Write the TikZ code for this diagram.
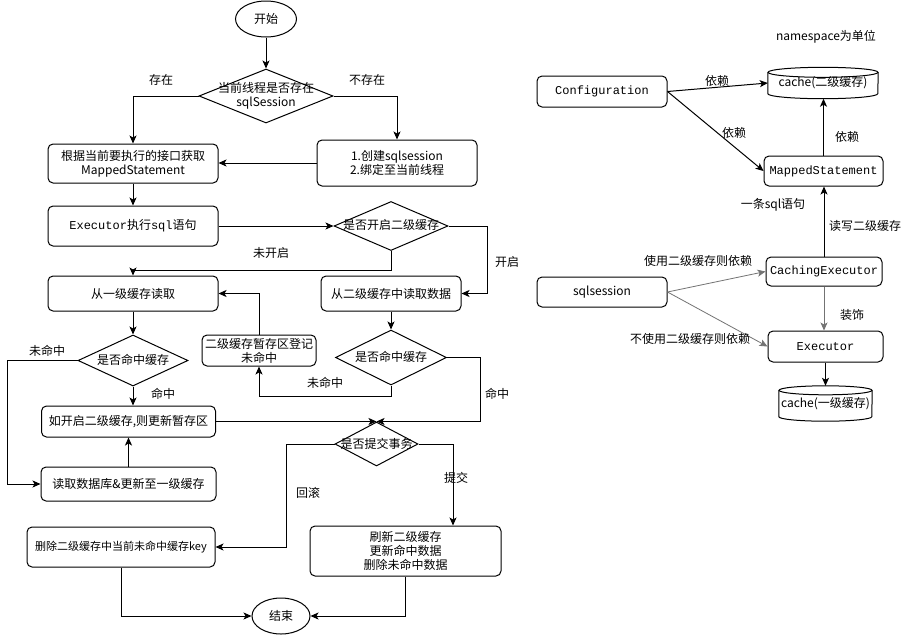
\documentclass[tikz,border=0pt]{standalone}
\usepackage{fontspec}
\setmainfont{Noto Sans CJK SC}
\newfontfamily\codefont{Liberation Mono}
\usetikzlibrary{shapes.geometric,arrows.meta}
\newcommand\dtext[1]{\smash{\makebox[0pt]{\raisebox{-4pt}{\begin{tabular}{@{}c@{}}#1\end{tabular}}}}}

\begin{document}
\begin{tikzpicture}[x=1pt,y=-1pt,
  every node/.style={font=\fontsize{12}{14}\selectfont},
  box/.style={draw,rounded corners=5pt,align=center,inner sep=2pt,line width=1pt},
  dec/.style={draw,diamond,inner sep=0pt,line width=1pt},
  term/.style={draw,ellipse,inner sep=0pt,line width=1pt},
  arr/.style={-{Stealth[length=8pt,width=7pt,inset=2pt]},line width=1pt},
  dep/.style={arr,draw=black!55,line width=0.8pt}]
  \path[fill=white] (0,0) rectangle (918,635);
  \useasboundingbox (0,0) rectangle (918,635);

  \node[term,minimum width=61pt,minimum height=36pt] (start) at (266,19) {开始};
  \node[dec,minimum width=134pt,minimum height=54pt] (hasSession) at (266,96) {\dtext{当前线程是否存在\\sqlSession}};
  \node[box,minimum width=170pt,minimum height=39pt] (getMs) at (133,163.5) {根据当前要执行的接口获取\\MappedStatement};
  \node[box,minimum width=160pt,minimum height=46pt] (newSession) at (397,163) {1.创建sqlsession\\2.绑定至当前线程};
  \node[box,minimum width=170pt,minimum height=40pt] (execSql) at (133,226) {{\codefont Executor}执行{\codefont sql}语句};
  \node[dec,minimum width=114pt,minimum height=49pt] (l2On) at (391,226) {\dtext{是否开启二级缓存}};
  \node[box,minimum width=170pt,minimum height=35pt] (readL1) at (133,293.5) {从一级缓存读取};
  \node[box,minimum width=140pt,minimum height=35pt] (readL2) at (391,293.5) {从二级缓存中读取数据};
  \node[dec,minimum width=110pt,minimum height=51pt] (hitL1) at (133,360.5) {\dtext{是否命中缓存}};
  \node[box,minimum width=114pt,minimum height=31pt,inner sep=1pt] (markMiss) at (259,350.5) {二级缓存暂存区登记\\未命中};
  \node[dec,minimum width=111pt,minimum height=55pt] (hitL2) at (391,357.5) {\dtext{是否命中缓存}};
  \node[box,minimum width=174pt,minimum height=31pt] (updTmp) at (128.5,421.5) {如开启二级缓存,则更新暂存区};
  \node[box,minimum width=175pt,minimum height=34pt] (readDb) at (128.5,484) {读取数据库\&更新至一级缓存};
  \node[dec,minimum width=83pt,minimum height=44pt] (commit) at (376.5,444) {\dtext{是否提交事务}};
  \node[box,minimum width=188pt,minimum height=40pt,font=\fontsize{11}{13}\selectfont] (delKey) at (121,547) {删除二级缓存中当前未命中缓存key};
  \node[box,minimum width=191pt,minimum height=50pt] (flush) at (405.5,551) {刷新二级缓存\\更新命中数据\\删除未命中数据};
  \node[term,minimum width=58pt,minimum height=36pt] (finish) at (281,616) {结束};

  \draw[arr] (start) -- (hasSession);
  \draw[arr] (hasSession.west) -| (getMs.north);
  \draw[arr] (hasSession.east) -| (newSession.north);
  \draw[arr] (newSession.west) -- (newSession.west -| getMs.east);
  \draw[arr] (getMs) -- (execSql);
  \draw[arr] (execSql.east) -- (l2On.west);
  \draw[arr] (l2On.south) -- ++(0,19) -| (readL1.north);
  \draw[arr] (l2On.east) -- ++(39,0) |- (readL2.east);
  \draw[arr] (readL1) -- (hitL1);
  \draw[arr] (hitL1.west) -- ++(-70,0) |- (readDb.west);
  \draw[arr] (hitL1.south) -- (hitL1.south |- updTmp.north);
  \draw[arr] (readDb) -- (updTmp);
  \draw[arr] (readL2) -- (hitL2);
  \draw[arr] (hitL2.south) -- ++(0,11) -| (markMiss.south);
  \draw[arr] (markMiss.north) |- (readL1.east);
  \draw[arr] (hitL2.east) -- ++(33,0) |- (commit.north);
  \draw[arr] (updTmp.east) -- (commit.north);
  \draw[arr] (commit.west) -- ++(-48,0) |- (delKey.east);
  \draw[arr] (commit.east) -| ([xshift=47.5pt]flush.north);
  \draw[arr] (delKey.south) |- (finish.west);
  \draw[arr] (flush.south) |- (finish.east);

  \node (lblYes) at (161,80) {存在};
  \node (lblNo) at (367,80) {不存在};
  \node (lblOff) at (271,253) {未开启};
  \node (lblOn) at (507,262) {开启};
  \node (lblMiss1) at (47,351) {未命中};
  \node (lblHit1) at (163,394) {命中};
  \node (lblMiss2) at (325,383) {未命中};
  \node (lblHit2) at (497,394) {命中};
  \node (lblBack) at (308,493) {回滚};
  \node (lblCommit) at (456,478) {提交};

  \node (nsNote) at (826,37) {namespace为单位};
  \node[minimum width=110pt,minimum height=31pt,inner sep=0pt] (cacheL2) at (823,83) {cache(二级缓存)};
  \draw[line width=1pt] ([yshift=-5pt]cacheL2.north west) -- ([yshift=5pt]cacheL2.south west) arc[start angle=180,end angle=360,x radius=55pt,y radius=5pt] -- ([yshift=-5pt]cacheL2.north east);
  \draw[line width=1pt] ([yshift=-5pt]cacheL2.north) ellipse [x radius=55pt,y radius=5pt];
  \node[box,minimum width=130pt,minimum height=31pt] (cfg) at (602,91.5) {\codefont Configuration};
  \node[box,minimum width=119pt,minimum height=30pt] (mappedSt) at (823.5,171) {\codefont MappedStatement};
  \node[box,minimum width=116pt,minimum height=29pt] (cachingEx) at (824,271.5) {\codefont CachingExecutor};
  \node[box,minimum width=130pt,minimum height=30pt] (sqlSess) at (602,292) {sqlsession};
  \node[box,minimum width=115pt,minimum height=31pt] (executor) at (825.5,346.5) {\codefont Executor};
  \node[minimum width=93pt,minimum height=35pt,inner sep=0pt] (cacheL1) at (825.5,403.5) {cache(一级缓存)};
  \draw[line width=1pt] ([yshift=-4.5pt]cacheL1.north west) -- ([yshift=4.5pt]cacheL1.south west) arc[start angle=180,end angle=360,x radius=46.5pt,y radius=4.5pt] -- ([yshift=-4.5pt]cacheL1.north east);
  \draw[line width=1pt] ([yshift=-4.5pt]cacheL1.north) ellipse [x radius=46.5pt,y radius=4.5pt];

  \draw[arr] (cfg.east) -- (cacheL2.west);
  \draw[arr] (cfg.east) -- (mappedSt.west);
  \draw[arr] (mappedSt.north) -- (mappedSt.north |- cacheL2.south);
  \draw[arr] (cachingEx.north) -- (cachingEx.north |- mappedSt.south);
  \draw[dep] (sqlSess.east) -- (cachingEx.west);
  \draw[dep] (sqlSess.east) -- (executor.west);
  \draw[dep] (cachingEx.south) -- (cachingEx.south |- executor.north);
  \draw[arr] (executor.south) -- (executor.south |- cacheL1.north);

  \node (lblDep1) at (717,81) {依赖};
  \node (lblDep2) at (734,133) {依赖};
  \node (lblDep3) at (847,137) {依赖};
  \node (lblOneSql) at (773,205) {一条sql语句};
  \node (lblRw) at (865,226) {读写二级缓存};
  \node (lblUse) at (698,261) {使用二级缓存则依赖};
  \node (lblNoUse) at (690,339) {不使用二级缓存则依赖};
  \node (lblDeco) at (852,315) {装饰};
\end{tikzpicture}
\end{document}
